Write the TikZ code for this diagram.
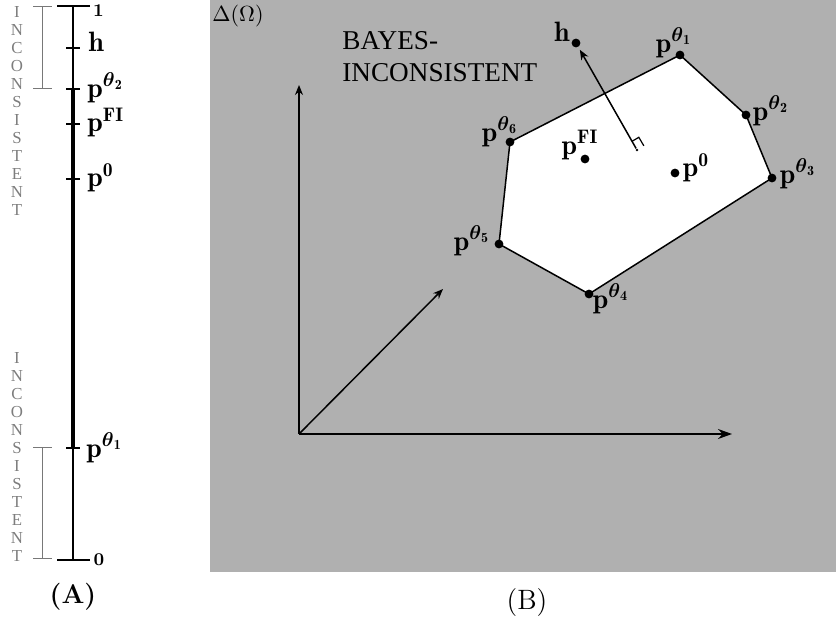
\documentclass[tikz,border=0pt]{standalone}
\usepackage{amsmath}
\usepackage{fontspec}
\newfontfamily\tms{Liberation Serif}
\usetikzlibrary{arrows.meta}
\definecolor{bgray}{RGB}{176,176,176}
\definecolor{mgray}{RGB}{120,120,120}
\definecolor{tgray}{RGB}{125,125,125}
\newcommand{\pth}[1]{\mathbf{p}^{\boldsymbol{\theta}_{\mathbf{#1}}}}
\begin{document}
\begin{tikzpicture}[x=0.5pt,y=-0.5pt,
  dot/.style={circle,fill=black,inner sep=0pt,minimum size=4.4pt},
  small dot/.style={circle,fill=black,inner sep=0pt,minimum size=1.4pt},
  lab/.style={inner sep=0pt,font=\fontsize{14}{16}\selectfont},
  numlab/.style={inner sep=0pt,font=\fontsize{9}{10}\selectfont\bfseries},
  vword/.style={inner sep=0pt,align=center,text=tgray,font=\tms\fontsize{8.4}{9}\selectfont},
  axisline/.style={line width=0.65pt},
  thickline/.style={line width=2pt},
  bracket/.style={draw=mgray,line width=0.5pt},
  edge/.style={line width=0.75pt},
  arr/.style={line width=0.75pt,-{Stealth[length=5pt,width=4pt]}},
  bigarr/.style={line width=0.75pt,-{Stealth[length=7pt,width=5pt]}}]
\useasboundingbox (0,0) rectangle (836,619);

% ---------------- Panel A ----------------
\coordinate (atop) at (73,6);
\coordinate (ah) at (73,48);
\coordinate (at2) at (73,89);
\coordinate (afi) at (73,124);
\coordinate (a0) at (73,179);
\coordinate (at1) at (73,448);
\coordinate (abot) at (73,560);

\draw[axisline] (atop) -- (at2);
\draw[axisline] (at1) -- (abot);
\draw[thickline] (at2) -- (at1);
\draw[axisline] ([xshift=-8pt]atop) -- ([xshift=8.5pt]atop);
\draw[axisline] ([xshift=-8pt]abot) -- ([xshift=8.5pt]abot);
\foreach \c in {ah,at2,afi,a0,at1}
  \draw[axisline] ([xshift=-3.5pt]\c) -- ([xshift=3.5pt]\c);

\node[numlab] (l1) at (98.5,11) {1};
\node[numlab] (l0) at (99,560) {0};
\node[lab,anchor=west] (lh) at (88,42) {$\mathbf{h}$};
\node[lab,anchor=west] (lt2) at (87,88) {$\pth{2}$};
\node[lab,anchor=west] (lfi) at (87,122.5) {$\mathbf{p}^{\mathbf{FI}}$};
\node[lab,anchor=west] (lz) at (87,178) {$\mathbf{p}^{\mathbf{0}}$};
\node[lab,anchor=west] (lt1) at (86,448) {$\pth{1}$};

% gray brackets
\draw[bracket] (42,7) -- (42,89);
\draw[bracket] (33,7) -- (52,7);
\draw[bracket] (33,89) -- (52,89);
\draw[bracket] (42,448) -- (42,559);
\draw[bracket] (33,448) -- (52,448);
\draw[bracket] (33,559) -- (52,559);

\node[vword] (w1) at (17,111.5) {I\\N\\C\\O\\N\\S\\I\\S\\T\\E\\N\\T};
\node[vword] (w2) at (17,457.5) {I\\N\\C\\O\\N\\S\\I\\S\\T\\E\\N\\T};

\node[inner sep=0pt,font=\fontsize{13.5}{15}\selectfont\bfseries] (capA) at (73,597) {(A)};

% ---------------- Panel B ----------------
\fill[bgray] (210,0) rectangle (836,572);
\node[inner sep=0pt,font=\fontsize{11}{12}\selectfont] (delta) at (238,16) {$\Delta(\Omega)$};
\node[inner sep=0pt,anchor=north west,align=left,font=\tms\fontsize{13.6}{16}\selectfont] (bayes) at (342,31) {BAYES-\\INCONSISTENT};

% axes
\coordinate (O) at (299,434);
\coordinate (X) at (732,434);
\coordinate (Y) at (299,85);
\coordinate (D) at (443,289);
\draw[bigarr] (O) -- (X);
\draw[arr] (O) -- (Y);
\draw[arr] (O) -- (D);

% polygon
\coordinate (t1) at (680,55);
\coordinate (t2) at (746,115);
\coordinate (t3) at (772,178);
\coordinate (t4) at (589,294);
\coordinate (t5) at (499,244);
\coordinate (t6) at (510,142);
\fill[white] (t1) -- (t2) -- (t3) -- (t4) -- (t5) -- (t6) -- cycle;
\draw[edge,line join=round] (t1) -- (t2) -- (t3) -- (t4) -- (t5) -- (t6) -- cycle;
\foreach \c in {t1,t2,t3,t4,t5,t6}
  \node[dot] (d\c) at (\c) {};

\node[dot] (dfi) at (585,159) {};
\node[dot] (dz) at (675,173) {};
\node[dot] (dh) at (576,43) {};
\node[small dot] (foot) at (637,150) {};

\draw[arr,shorten >=1.5pt] (foot) -- (dh);
\coordinate (m1) at (631.9,141.4);
\coordinate (m2) at (638.8,137.3);
\coordinate (m3) at (643.9,145.9);
\draw[line width=0.6pt] (m1) -- (m2) -- (m3);

\node[lab] (bt1) at (674,43) {$\pth{1}$};
\node[lab] (bt2) at (771,111) {$\pth{2}$};
\node[lab] (bt3) at (798,174) {$\pth{3}$};
\node[lab] (bt4) at (611,299) {$\pth{4}$};
\node[lab] (bt5) at (472,241) {$\pth{5}$};
\node[lab] (bt6) at (500,132) {$\pth{6}$};
\node[lab] (bfi) at (580,145) {$\mathbf{p}^{\mathbf{FI}}$};
\node[lab] (bz) at (696,168) {$\mathbf{p}^{\mathbf{0}}$};
\node[lab] (bh) at (562,32) {$\mathbf{h}$};

\node[inner sep=0pt,font=\fontsize{14}{16}\selectfont] (capB) at (527,603) {(B)};
\end{tikzpicture}
\end{document}
